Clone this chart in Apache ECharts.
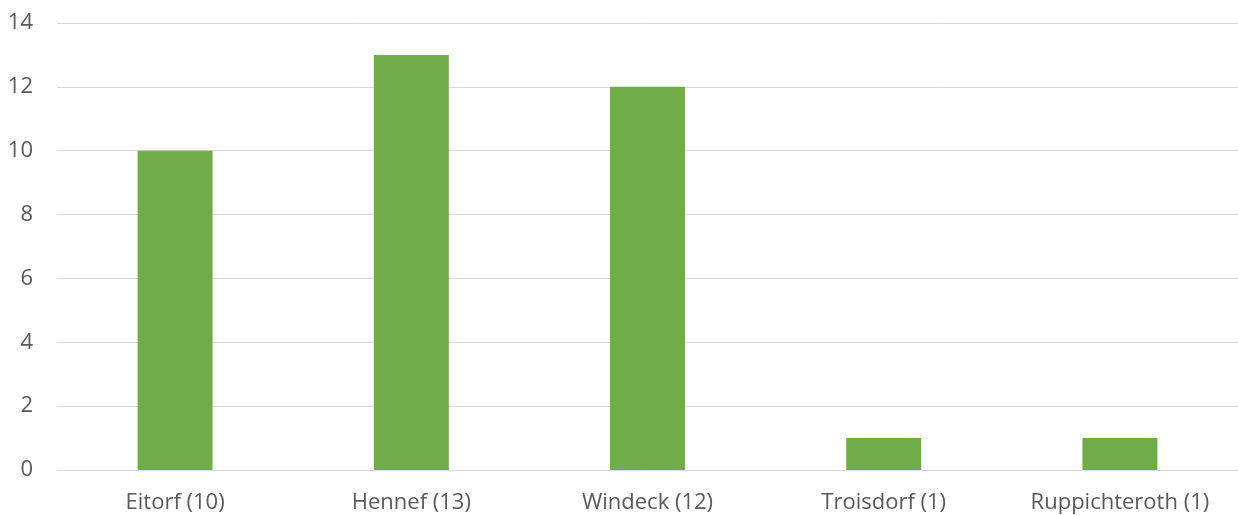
<!DOCTYPE html>
<html>
<head>
<meta charset="utf-8">
<script src="https://cdn.jsdelivr.net/npm/echarts@6/dist/echarts.min.js"></script>
<style>
  html, body { margin: 0; padding: 0; background: #ffffff; }
  #chart { width: 1238px; height: 515px; }
</style>
</head>
<body>
<div id="chart"></div>
<script>
// Number of entries per town
const categories = ['Eitorf (10)', 'Hennef (13)', 'Windeck (12)', 'Troisdorf (1)', 'Ruppichteroth (1)'];
const values = [10, 13, 12, 1, 1];
const yTicks = [0, 2, 4, 6, 8, 10, 12, 14];

const chart = echarts.init(document.getElementById('chart'), null, { renderer: 'canvas' });
const labelFont = { color: '#595959', fontFamily: 'Open Sans', fontSize: 22 };

chart.setOption({
  animation: false,
  grid: { left: 57, top: 23, width: 1185, height: 447, containLabel: false },
  xAxis: {
    type: 'category',
    data: categories,
    axisLine: { show: true, lineStyle: { color: '#d9d9d9', width: 1 } },
    axisTick: { show: false },
    axisLabel: Object.assign({ margin: 22 }, labelFont)
  },
  yAxis: {
    type: 'value',
    min: yTicks[0],
    max: yTicks[yTicks.length - 1],
    interval: 2,
    axisLine: { show: false },
    axisTick: { show: false },
    splitLine: { lineStyle: { color: '#d9d9d9', width: 1 } },
    axisLabel: Object.assign({ margin: 24 }, labelFont)
  },
  series: [{
    type: 'bar',
    data: values,
    barWidth: 75,
    itemStyle: { color: '#70ad47' }
  }]
});
</script>
</body>
</html>
